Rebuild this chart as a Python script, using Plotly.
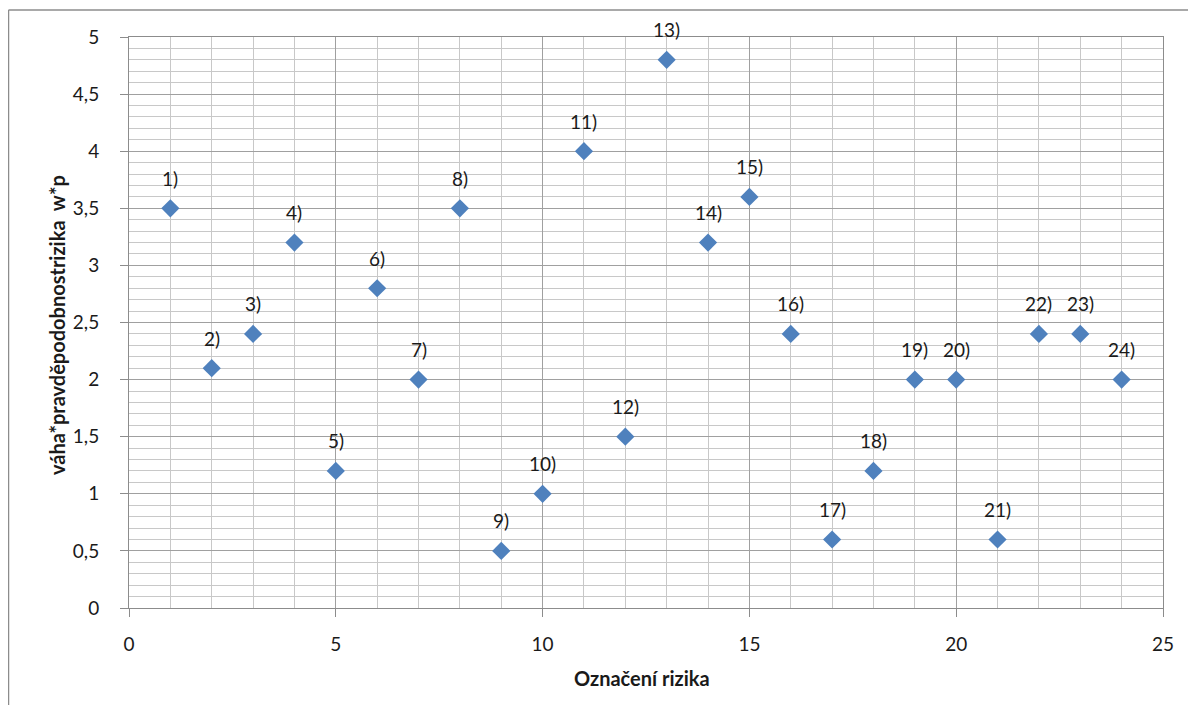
import plotly.graph_objects as go

risk_ids = list(range(1, 25))
values = [3.5, 2.1, 2.4, 3.2, 1.2, 2.8, 2.0, 3.5, 0.5, 1.0, 4.0, 1.5,
          4.8, 3.2, 3.6, 2.4, 0.6, 1.2, 2.0, 2.0, 0.6, 2.4, 2.4, 2.0]
labels = [f"{i})" for i in risk_ids]

x_title = "Označení rizika"
y_title = "váha*pravděpodobnostrizika\u00a0\u00a0w*p"

FONT = "Lato"
TXT = "#1a1a1a"

W, H = 1180, 697
L, R, T, B = 121, 25, 29, 97
PW, PH = W - L - R, H - T - B
OFF = 8  # page body margin

fig = go.Figure()
fig.add_trace(go.Scatter(
    x=risk_ids, y=values, mode="markers",
    marker=dict(symbol="diamond", size=14, color="#4F81BD"),
    showlegend=False, hoverinfo="x+y",
))

for xi, yi, lab in zip(risk_ids, values, labels):
    fig.add_annotation(x=xi, y=yi, text=lab, showarrow=False, yshift=30,
                       font=dict(family=FONT, size=19, color=TXT))

axis_common = dict(
    showline=True, linecolor="#8c8c8c", linewidth=1, mirror=True,
    ticks="outside", ticklen=8, tickcolor="#8c8c8c", tickwidth=1,
    showgrid=True, gridcolor="#a0a0a0", gridwidth=1,
    zeroline=False,
    tickfont=dict(family=FONT, size=19, color=TXT),
)

fig.update_xaxes(
    range=[0, 25], dtick=5, tick0=0,
    minor=dict(dtick=1, showgrid=True, gridcolor="#c8c8c8", gridwidth=1, ticks=""),
    ticklabelstandoff=11,
    **axis_common,
)
fig.update_yaxes(
    range=[0, 5], dtick=0.5, tick0=0,
    minor=dict(dtick=0.1, showgrid=True, gridcolor="#c8c8c8", gridwidth=1, ticks=""),
    ticklabelstandoff=17,
    **axis_common,
)

def px_to_paper_x(px):
    return (px - OFF - L) / PW

def py_to_paper_y(py):
    return (H - B - (py - OFF)) / PH

fig.add_annotation(xref="paper", yref="paper", x=px_to_paper_x(642), y=py_to_paper_y(678),
                   text=f"<b>{x_title}</b>", showarrow=False,
                   font=dict(family=FONT, size=20, color=TXT),
                   xanchor="center", yanchor="middle")
fig.add_annotation(xref="paper", yref="paper", x=px_to_paper_x(57), y=py_to_paper_y(325),
                   text=f"<b>{y_title}</b>", showarrow=False, textangle=-90,
                   font=dict(family=FONT, size=20, color=TXT),
                   xanchor="center", yanchor="middle")

# outer chart border (only left and top edges are visible in the frame)
bx0, by0 = px_to_paper_x(8.5), py_to_paper_y(10)
fig.add_shape(type="line", xref="paper", yref="paper",
              x0=bx0, x1=bx0, y0=by0, y1=py_to_paper_y(705),
              line=dict(color="#8c8c8c", width=1.5))
fig.add_shape(type="line", xref="paper", yref="paper",
              x0=bx0, x1=px_to_paper_x(1188), y0=by0, y1=by0,
              line=dict(color="#8c8c8c", width=1.5))

fig.update_layout(
    width=W, height=H,
    margin=dict(l=L, r=R, t=T, b=B),
    paper_bgcolor="white", plot_bgcolor="white",
    separators=", ",
    font=dict(family=FONT),
)

fig.write_html("out.html")
